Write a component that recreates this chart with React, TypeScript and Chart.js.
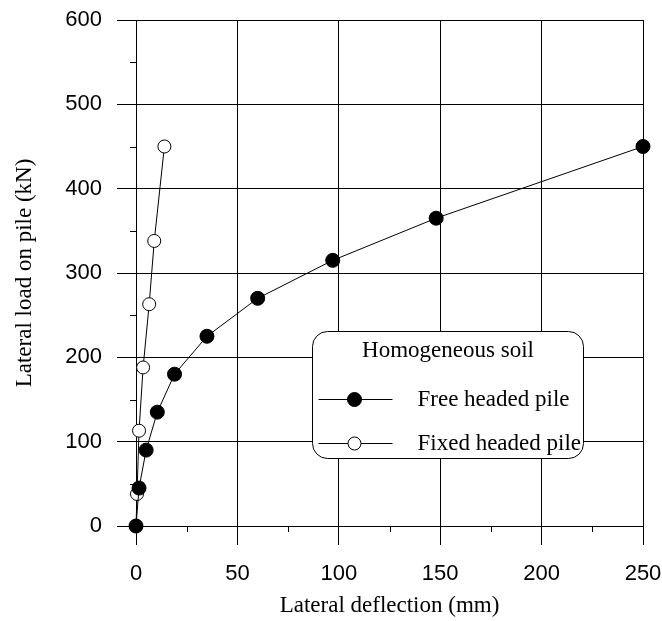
import React, { useEffect, useRef } from 'react';
import { Chart, registerables } from 'chart.js';

Chart.register(...registerables);

// ---- data ----
const freeDeflection = [0, 1.5, 5, 10.5, 19, 35, 60, 97, 148, 250];
const freeLoad = [0, 45, 90, 135, 180, 225, 270, 315, 365, 450];
const fixedDeflection = [0, 0.5, 1.5, 3.5, 6.5, 9, 14];
const fixedLoad = [0, 38, 113, 188, 263, 338, 450];
const seriesLabels = ['Free headed pile', 'Fixed headed pile'];
const legendTitle = 'Homogeneous soil';
const xTitle = 'Lateral deflection (mm)';
const yTitle = 'Lateral load on pile (kN)';
const xMinorTicks = [25, 75, 125, 175, 225];
const yMinorTicks = [50, 150, 250, 350, 450, 550];

const SERIF = '"Liberation Serif", "Times New Roman", serif';
const SANS = '"Liberation Sans", Arial, sans-serif';

const minorTickPlugin = {
  id: 'minorTicks',
  afterDraw(chart: any) {
    const { ctx, scales, chartArea } = chart;
    ctx.save();
    ctx.strokeStyle = '#000';
    ctx.lineWidth = 1;
    ctx.beginPath();
    xMinorTicks.forEach((v) => {
      const px = Math.round(scales.x.getPixelForValue(v)) + 0.5;
      ctx.moveTo(px, chartArea.bottom);
      ctx.lineTo(px, chartArea.bottom + 6);
    });
    yMinorTicks.forEach((v) => {
      const py = Math.round(scales.y.getPixelForValue(v)) + 0.5;
      ctx.moveTo(chartArea.left, py);
      ctx.lineTo(chartArea.left - 6, py);
    });
    ctx.stroke();
    ctx.restore();
  },
};

const legendPlugin = {
  id: 'boxLegend',
  afterDatasetsDraw(chart: any) {
    const { ctx, chartArea } = chart;
    const left = chartArea.left + 176.5;
    const top = chartArea.top + 311.5;
    const w = 271;
    const h = 127;
    const r = 15;
    ctx.save();
    ctx.beginPath();
    ctx.moveTo(left + r, top);
    ctx.lineTo(left + w - r, top);
    ctx.arcTo(left + w, top, left + w, top + r, r);
    ctx.lineTo(left + w, top + h - r);
    ctx.arcTo(left + w, top + h, left + w - r, top + h, r);
    ctx.lineTo(left + r, top + h);
    ctx.arcTo(left, top + h, left, top + h - r, r);
    ctx.lineTo(left, top + r);
    ctx.arcTo(left, top, left + r, top, r);
    ctx.closePath();
    ctx.fillStyle = '#fff';
    ctx.fill();
    ctx.strokeStyle = '#000';
    ctx.lineWidth = 1;
    ctx.stroke();

    ctx.fillStyle = '#000';
    ctx.font = `23px ${SERIF}`;
    ctx.textBaseline = 'middle';
    ctx.textAlign = 'center';
    ctx.fillText(legendTitle, left + w / 2, top + 19);

    const rows = [top + 67, top + 111];
    chart.data.datasets.forEach((ds: any, i: number) => {
      const y = Math.round(rows[i]) + 0.5;
      ctx.beginPath();
      ctx.strokeStyle = '#000';
      ctx.lineWidth = 1;
      ctx.moveTo(left + 6, y);
      ctx.lineTo(left + 80, y);
      ctx.stroke();
      ctx.beginPath();
      ctx.arc(left + 42, y, ds.pointRadius, 0, Math.PI * 2);
      ctx.fillStyle = ds.pointBackgroundColor;
      ctx.fill();
      ctx.strokeStyle = ds.pointBorderColor;
      ctx.lineWidth = ds.pointBorderWidth;
      ctx.stroke();
      ctx.fillStyle = '#000';
      ctx.textAlign = 'left';
      ctx.fillText(ds.label, left + 105, y);
    });
    ctx.restore();
  },
};

const zeroPad = (s: any) => {
  s.paddingLeft = 0;
  s.paddingRight = 0;
  s.paddingTop = 0;
  s.paddingBottom = 0;
};

export default function App() {
  const ref = useRef<HTMLCanvasElement>(null);
  useEffect(() => {
    if (!ref.current) return;
    const chart = new Chart(ref.current, {
      type: 'scatter',
      data: {
        datasets: [
          {
            label: seriesLabels[0],
            data: freeDeflection.map((x, i) => ({ x, y: freeLoad[i] })),
            showLine: true,
            borderColor: '#000',
            borderWidth: 1,
            pointRadius: 7,
            pointHoverRadius: 7,
            pointBackgroundColor: '#000',
            pointBorderColor: '#000',
            pointBorderWidth: 1,
            clip: false,
          } as any,
          {
            label: seriesLabels[1],
            data: fixedDeflection.map((x, i) => ({ x, y: fixedLoad[i] })),
            showLine: true,
            borderColor: '#000',
            borderWidth: 1,
            pointRadius: 6.5,
            pointHoverRadius: 6.5,
            pointBackgroundColor: '#fff',
            pointBorderColor: '#000',
            pointBorderWidth: 1,
            clip: false,
          } as any,
        ],
      },
      options: {
        animation: false,
        responsive: false,
        events: [],
        layout: { padding: { left: 0, top: 20, right: 19, bottom: 0 } },
        plugins: {
          legend: { display: false },
          tooltip: { enabled: false },
        },
        scales: {
          x: {
            type: 'linear',
            min: 0,
            max: 250,
            afterFit: (s: any) => {
              s.height = 95;
              zeroPad(s);
            },
            ticks: {
              stepSize: 50,
              color: '#000',
              padding: 16,
              font: { family: SANS, size: 22 },
            },
            grid: { color: '#000', lineWidth: 1, tickLength: 19, drawTicks: true },
            border: { display: true, color: '#000', width: 1 },
            title: {
              display: true,
              text: xTitle,
              color: '#000',
              font: { family: SERIF, size: 23 },
              padding: { top: 0, bottom: 1 },
            },
          },
          y: {
            type: 'linear',
            min: 0,
            max: 600,
            afterFit: (s: any) => {
              s.width = 136;
              zeroPad(s);
            },
            ticks: {
              stepSize: 100,
              color: '#000',
              padding: 15,
              font: { family: SANS, size: 22 },
            },
            grid: { color: '#000', lineWidth: 1, tickLength: 19, drawTicks: true },
            border: { display: true, color: '#000', width: 1 },
            title: {
              display: true,
              text: yTitle,
              color: '#000',
              font: { family: SERIF, size: 23 },
              padding: { top: 11, bottom: 0 },
            },
          },
        },
      },
      plugins: [minorTickPlugin, legendPlugin],
    });
    return () => chart.destroy();
  }, []);
  return (
    <div style={{ position: 'absolute', left: 0, top: 0, width: 662, height: 621, background: '#fff' }}>
      <canvas ref={ref} width={662} height={621} style={{ display: 'block' }} />
    </div>
  );
}
